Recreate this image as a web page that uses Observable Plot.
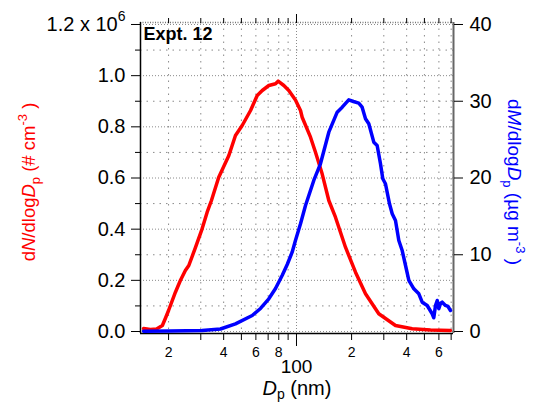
<!DOCTYPE html>
<html><head><meta charset="utf-8">
<script src="https://cdn.jsdelivr.net/npm/d3@7"></script>
<script src="https://cdn.jsdelivr.net/npm/@observablehq/plot@0.6"></script>
<style>body{margin:0;background:#fff} svg{display:block}</style>
</head><body><div id="chart"></div>
<script>
// Number size distribution (red, left axis)
const dpN = [14.6, 15.9, 17.2, 18.5, 19.2, 20.0, 21.8, 23.2, 24.7, 25.8, 28.1, 30.5, 32.5, 34.3, 37.6, 42.7, 46.4, 50.5, 56.1, 61.0, 65.0, 70.6, 76.8, 79.4, 85.3, 90.8, 98.7, 105.2, 107.4, 119.3, 127.0, 138.1, 150.2, 163.3, 185.2, 210.1, 238.3, 281.6, 347.5, 428.7, 540, 694];
const dN = [11700, 7800, 9800, 23500, 50800, 82100, 153600, 199300, 238400, 258000, 329500, 401400, 466300, 512000, 603100, 688000, 766100, 805200, 863800, 922500, 942000, 961600, 968200, 978400, 961600, 942000, 905000, 863800, 837600, 759500, 700800, 616400, 512000, 446700, 329500, 231800, 147400, 69200, 23500, 10600, 5900, 3900];
// Mass size distribution (blue, right axis)
const dpM = [14.6, 20.5, 30.5, 38.4, 46.4, 57.3, 63.6, 70.6, 76.8, 83.5, 89.0, 94.7, 98.7, 105.2, 112.0, 124.3, 135.2, 150.2, 166.9, 177.8, 193.0, 204.8, 218.9, 228.4, 238.3, 248.4, 264.5, 275.9, 287.7, 296.2, 306.3, 322.3, 333.4, 347.5, 362.4, 378.1, 394.3, 411.1, 437.8, 466.2, 486.2, 517.8, 551.3, 562.6, 574.9, 587.5, 599.4, 612.2, 625.6, 651.6, 672.9, 694.2];
const dM = [0.04, 0.07, 0.13, 0.33, 1.0, 2.08, 3.0, 4.26, 5.6, 7.30, 8.73, 10.33, 11.86, 14.03, 16.42, 19.68, 21.85, 25.97, 28.58, 29.23, 30.19, 29.97, 29.75, 29.23, 27.72, 27.06, 24.67, 24.24, 21.85, 19.90, 19.25, 16.64, 15.34, 14.46, 11.86, 10.55, 8.60, 6.65, 5.56, 4.91, 3.82, 3.39, 2.31, 1.79, 3.39, 4.04, 2.96, 3.65, 3.82, 3.39, 3.26, 2.74];

// Axes
const xDomain = [14.05, 721];
const yDomain = [-7800, 1207800];
const xTicksMinor = [20, 30, 40, 50, 60, 70, 80, 90, 200, 300, 400, 500, 600, 700];
const xLabelTicks = [20, 40, 60, 80, 200, 400, 600];
const xLabelTexts = ["2", "4", "6", "8", "2", "4", "6"];
const xTicksMajor = [100];
const yTicksMajor = [0, 200000, 400000, 600000, 800000, 1000000, 1200000];
const yTickLabels = ["0.0", "0.2", "0.4", "0.6", "0.8", "1.0", "1.2 x 10"];
const yTicksMinor = [100000, 300000, 500000, 700000, 900000, 1100000];
const rightTicks = [0, 10, 20, 30, 40];
const massToNumber = 1200000 / 40;

const numberData = dpN.map((d, i) => ({dp: d, v: dN[i]}));
const massData = dpM.map((d, i) => ({dp: d, m: dM[i]}));

const font = "'Liberation Sans', Arial, Helvetica, sans-serif";
const gridColor = "#8a8a8a";

const chart = Plot.plot({
  width: 542,
  height: 406,
  marginLeft: 140,
  marginRight: 89,
  marginTop: 22,
  marginBottom: 73,
  style: {fontFamily: font, background: "#fff", color: "#000"},
  x: {type: "log", domain: xDomain, label: null},
  y: {domain: yDomain, label: null},
  marks: [
    Plot.gridY(yTicksMinor, {stroke: gridColor, strokeOpacity: 1, strokeDasharray: "1.5,5"}),
    Plot.gridY(yTicksMajor, {stroke: gridColor, strokeOpacity: 1, strokeDasharray: "1,2"}),
    Plot.gridX(xTicksMinor, {stroke: gridColor, strokeOpacity: 1, strokeDasharray: "1.5,5"}),
    Plot.gridX(xTicksMajor, {stroke: gridColor, strokeOpacity: 1, strokeDasharray: "1,2"}),
    Plot.ruleY([yDomain[1]], {stroke: "#777", strokeWidth: 1.5, strokeDasharray: "1,1.5"}),
    Plot.ruleX([xDomain[1]], {stroke: "#666", strokeWidth: 2}),
    Plot.ruleX([xDomain[0]], {stroke: "#000", strokeWidth: 1.5}),
    Plot.ruleY([yDomain[0]], {stroke: "#000", strokeWidth: 1.5}),
    Plot.line(numberData, {x: "dp", y: "v", stroke: "#ff0000", strokeWidth: 3.5}),
    Plot.line(massData, {x: "dp", y: d => d.m * massToNumber, stroke: "#0000ff", strokeWidth: 3.5}),
    Plot.axisY(yTicksMajor, {anchor: "left", tickSize: 9, tickPadding: 6, fontSize: 20, label: null,
      tickFormat: d => yTickLabels[yTicksMajor.indexOf(d)]}),
    Plot.axisY(yTicksMinor, {anchor: "left", tickSize: 5, label: null, tickFormat: () => ""}),
    Plot.axisY(rightTicks.map(t => t * massToNumber), {anchor: "right", tickSize: 9, tickPadding: 7, fontSize: 20, label: null,
      tickFormat: d => String(Math.round(d / massToNumber))}),
    Plot.axisX(xTicksMinor, {anchor: "bottom", tickSize: 7, label: null, tickFormat: () => ""}),
    Plot.text(xLabelTicks, {x: d => d, text: (d, i) => xLabelTexts[i], frameAnchor: "bottom", dy: 14,
      lineAnchor: "top", fontSize: 14, fill: "#000"}),
    Plot.axisX(xTicksMajor, {anchor: "bottom", tickSize: 13, tickPadding: 13, fontSize: 19, label: null,
      tickFormat: d => String(d)}),
    Plot.axisX(xTicksMinor, {anchor: "top", tickSize: 5, label: null, tickFormat: () => ""}),
    Plot.axisX(xTicksMajor, {anchor: "top", tickSize: 9, label: null, tickFormat: () => ""}),
    Plot.text(["Expt. 12"], {frameAnchor: "top-left", dx: 3, dy: 5, lineAnchor: "top", textAnchor: "start",
      fontSize: 18, fontWeight: "bold", fill: "#000"})
  ]
});

document.getElementById("chart").appendChild(chart);
const svg = d3.select(chart);

// superscript exponent on the top left tick label
svg.selectAll("text").filter(function() { return this.textContent === "1.2 x 10"; })
  .append("tspan").attr("dy", "-0.7em").attr("font-size", 14).text("6");

// x-axis title
const xt = svg.append("text").attr("x", 297).attr("y", 395).attr("text-anchor", "middle")
  .attr("font-size", 20).attr("font-family", font).attr("fill", "#000");
xt.append("tspan").attr("font-style", "italic").text("D");
xt.append("tspan").attr("font-size", 14).attr("dy", 4).text("p");
xt.append("tspan").attr("dy", -4).text(" (nm)");

// left y-axis title
const lt = svg.append("text").attr("transform", "translate(35,182) rotate(-90)").attr("text-anchor", "middle")
  .attr("font-size", 18.5).attr("font-family", font).attr("fill", "#ff0000");
lt.append("tspan").text("d");
lt.append("tspan").attr("font-style", "italic").text("N");
lt.append("tspan").text("/dlog");
lt.append("tspan").attr("font-style", "italic").text("D");
lt.append("tspan").attr("font-size", 13).attr("dy", 5).text("p");
lt.append("tspan").attr("dy", -5).text(" (# cm");
lt.append("tspan").attr("font-size", 13).attr("dy", -8).text("-3");
lt.append("tspan").attr("dy", 8).text(" )");

// right y-axis title
const rt = svg.append("text").attr("transform", "translate(508,182) rotate(90)").attr("text-anchor", "middle")
  .attr("font-size", 19).attr("font-family", font).attr("fill", "#0000ff");
rt.append("tspan").text("d");
rt.append("tspan").attr("font-style", "italic").text("M");
rt.append("tspan").text("/dlog");
rt.append("tspan").attr("font-style", "italic").text("D");
rt.append("tspan").attr("font-size", 13).attr("dy", 5).text("p");
rt.append("tspan").attr("dy", -5).text(" (µg m");
rt.append("tspan").attr("font-size", 13).attr("dy", -8).text("-3");
rt.append("tspan").attr("dy", 8).text(" )");
</script>
</body></html>
